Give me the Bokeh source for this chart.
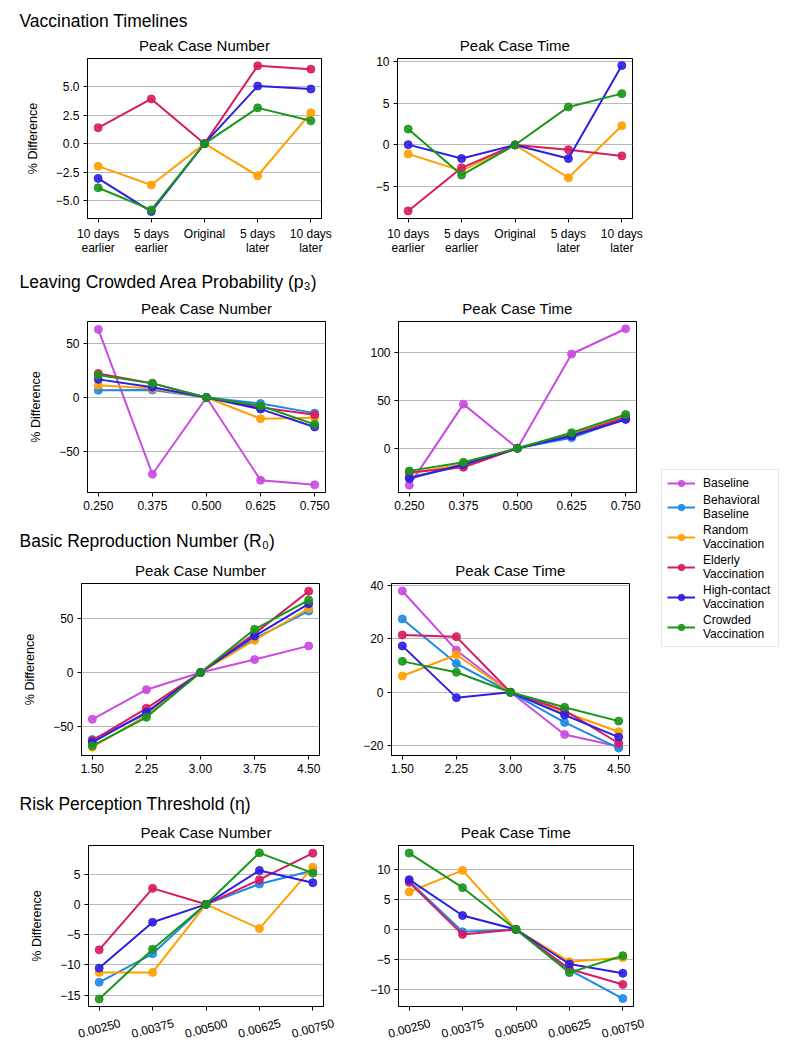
from bokeh.plotting import figure
from bokeh.layouts import row, column
from bokeh.models import (Range1d, FixedTicker, CustomJSTickFormatter, Legend,
                          LegendItem, ColumnDataSource)
from bokeh.embed import file_html
from bokeh.resources import INLINE
from bokeh.core.properties import value
import math

FONT = "Liberation Sans"

# ---------------- series / legend ----------------
SERIES = ["Baseline", "Behavioral Baseline", "Random Vaccination",
          "Elderly Vaccination", "High-contact Vaccination", "Crowded Vaccination"]
LEGEND_LABELS = ["Baseline", "Behavioral\nBaseline", "Random\nVaccination",
                 "Elderly\nVaccination", "High-contact\nVaccination", "Crowded\nVaccination"]
COLORS = ["#C94BE0", "#1E88E5", "#FFA000", "#D81B60", "#2D1FE0", "#1A961A"]

# ---------------- Vaccination timelines ----------------
vt_x = [0, 1, 2, 3, 4]
vt_labels = ["10 days\nearlier", "5 days\nearlier", "Original", "5 days\nlater", "10 days\nlater"]
vt_num = {
    "Random Vaccination":       [-1.97, -3.62, 0.0, -2.81, 2.70],
    "Elderly Vaccination":      [1.39, 3.91, 0.0, 6.81, 6.52],
    "High-contact Vaccination": [-3.04, -5.94, 0.0, 5.04, 4.78],
    "Crowded Vaccination":      [-3.86, -5.80, 0.0, 3.13, 2.00],
}
vt_time = {
    "Random Vaccination":       [-1.07, -3.10, 0.0, -3.93, 2.30],
    "Elderly Vaccination":      [-7.90, -2.74, 0.0, -0.56, -1.31],
    "High-contact Vaccination": [0.04, -1.63, 0.0, -1.63, 9.52],
    "Crowded Vaccination":      [1.90, -3.61, 0.0, 4.56, 6.15],
}

# ---------------- Leaving crowded area probability p3 ----------------
p3_x = [0.250, 0.375, 0.500, 0.625, 0.750]
p3_num = {
    "Baseline":                 [63.0, -70.9, 0.0, -76.5, -80.7],
    "Behavioral Baseline":      [6.7, 7.0, 0.0, -5.5, -14.4],
    "Random Vaccination":       [11.3, 8.3, 0.0, -19.6, -18.7],
    "Elderly Vaccination":      [22.3, 13.1, 0.0, -9.2, -15.9],
    "High-contact Vaccination": [16.8, 9.5, 0.0, -10.7, -27.2],
    "Crowded Vaccination":      [20.8, 13.1, 0.0, -7.6, -24.8],
}
p3_time = {
    "Baseline":                 [-38.5, 46.2, 0.0, 98.6, 125.0],
    "Behavioral Baseline":      [-30.2, -18.4, 0.0, 11.1, 30.9],
    "Random Vaccination":       [-26.4, -16.7, 0.0, 14.6, 33.7],
    "Elderly Vaccination":      [-25.3, -19.8, 0.0, 13.5, 32.6],
    "High-contact Vaccination": [-31.6, -17.0, 0.0, 12.8, 30.2],
    "Crowded Vaccination":      [-23.6, -14.6, 0.0, 16.3, 35.4],
}

# ---------------- Basic reproduction number R0 ----------------
r0_x = [1.50, 2.25, 3.00, 3.75, 4.50]
r0_num = {
    "Baseline":                 [-43.1, -15.9, 0.0, 11.9, 24.5],
    "Behavioral Baseline":      [-61.8, -38.2, 0.0, 31.2, 56.6],
    "Random Vaccination":       [-68.8, -39.8, 0.0, 29.7, 59.0],
    "Elderly Vaccination":      [-62.7, -33.0, 0.0, 35.8, 74.9],
    "High-contact Vaccination": [-64.5, -36.7, 0.0, 33.6, 63.3],
    "Crowded Vaccination":      [-67.6, -41.3, 0.0, 39.8, 66.7],
}
r0_time = {
    "Baseline":                 [38.0, 15.8, 0.0, -15.8, -20.3],
    "Behavioral Baseline":      [27.5, 10.8, 0.0, -11.3, -20.9],
    "Random Vaccination":       [6.1, 14.1, 0.0, -7.5, -14.8],
    "Elderly Vaccination":      [21.5, 20.8, 0.0, -6.8, -19.1],
    "High-contact Vaccination": [17.4, -2.0, 0.0, -8.5, -16.8],
    "Crowded Vaccination":      [11.6, 7.5, 0.0, -5.6, -10.8],
}

# ---------------- Risk perception threshold eta ----------------
eta_x = [0.00250, 0.00375, 0.00500, 0.00625, 0.00750]
eta_labels = ["0.00250", "0.00375", "0.00500", "0.00625", "0.00750"]
eta_num = {
    "Behavioral Baseline":      [-12.9, -8.19, 0.0, 3.35, 5.6],
    "Random Vaccination":       [-11.26, -11.26, 0.0, -4.01, 6.15],
    "Elderly Vaccination":      [-7.53, 2.64, 0.0, 4.07, 8.46],
    "High-contact Vaccination": [-10.55, -2.97, 0.0, 5.60, 3.57],
    "Crowded Vaccination":      [-15.66, -7.42, 0.0, 8.52, 5.16],
}
eta_time = {
    "Behavioral Baseline":      [8.0, -0.38, 0.0, -6.7, -11.43],
    "Random Vaccination":       [6.21, 9.78, 0.0, -5.33, -4.67],
    "Elderly Vaccination":      [7.80, -0.82, 0.0, -6.54, -9.12],
    "High-contact Vaccination": [8.24, 2.31, 0.0, -5.71, -7.25],
    "Crowded Vaccination":      [12.64, 6.92, 0.0, -7.14, -4.34],
}

SECTION_TITLES = ["Vaccination Timelines",
                  "Leaving Crowded Area Probability (p\u2083)",
                  "Basic Reproduction Number (R\u2080)",
                  "Risk Perception Threshold (\u03b7)"]
LEFT_TITLE = "Peak Case Number"
RIGHT_TITLE = "Peak Case Time"
Y_LABEL = "% Difference"


def fmt(dec):
    return CustomJSTickFormatter(
        code="return tick.toFixed(%d).replace('-', '\u2212');" % dec)


def blank_fig(width, height, xr, yr):
    f = figure(width=width, height=height, x_range=xr, y_range=yr, min_border=0,
               x_axis_location=None, y_axis_location=None,
               toolbar_location=None, output_backend="svg")
    f.grid.visible = False
    f.outline_line_color = None
    return f


def header(text, height, yc, width=650):
    h = blank_fig(width, height, Range1d(0, width), Range1d(height, 0))
    h.text(x=[19], y=[yc], text=[text], text_font=value(FONT),
           text_font_size="17.5px", text_baseline="middle", text_align="left",
           text_color="black")
    return h


def style_axis(ax):
    ax.major_tick_out = 4
    ax.major_tick_in = 0
    ax.minor_tick_line_color = None
    ax.axis_line_color = "black"
    ax.major_tick_line_color = "black"
    ax.major_label_text_font = FONT
    ax.major_label_text_font_size = "12px"
    ax.major_label_text_color = "black"
    ax.major_label_text_line_height = 1.05
    ax.major_label_standoff = 4


def panel(title, xs, data, xr, yr, xticks, xfmt, yticks, ydec, geom,
          ylabel=None, overrides=None):
    ml, fw, mr, mt, fh, mb = geom
    p = figure(width=ml + fw + mr, height=mt + fh + mb, min_border_left=ml,
               min_border_right=mr, min_border_top=mt, min_border_bottom=mb,
               x_range=Range1d(*xr), y_range=Range1d(*yr), title=title,
               toolbar_location=None, output_backend="svg")
    p.title.align = "center"
    p.title.text_font = FONT
    p.title.text_font_size = "15px"
    p.title.text_font_style = "normal"
    p.title.text_color = "black"
    p.title.standoff = 10
    p.outline_line_color = "black"
    p.outline_line_width = 1
    p.xgrid.visible = False
    p.ygrid.grid_line_color = "#b8b8b8"
    p.ygrid.grid_line_width = 1.2
    style_axis(p.xaxis[0])
    style_axis(p.yaxis[0])
    p.xaxis.ticker = FixedTicker(ticks=xticks)
    if overrides is not None:
        p.xaxis.major_label_overrides = overrides
    else:
        p.xaxis.formatter = xfmt
    p.yaxis.ticker = FixedTicker(ticks=yticks)
    p.yaxis.formatter = fmt(ydec)
    if ylabel:
        p.yaxis.axis_label = ylabel
        p.yaxis.axis_label_text_font = FONT
        p.yaxis.axis_label_text_font_size = "12.5px"
        p.yaxis.axis_label_text_font_style = "normal"
        p.yaxis.axis_label_text_color = "black"
        p.yaxis.axis_label_standoff = 13
    for name, color in zip(SERIES, COLORS):
        if name not in data:
            continue
        src = ColumnDataSource(data=dict(x=xs, y=data[name]))
        p.line("x", "y", source=src, line_color=color, line_width=2)
        p.scatter("x", "y", source=src, size=8, fill_color=color,
                  line_color=color, fill_alpha=0.9, line_alpha=0.9)
    return p


def rotated_labels(p, geom, xs, labels, height, yc):
    """Full-width strip under a panel holding its x tick labels, rotated by
    15 degrees and centred on the ticks (same data scale as the panel)."""
    ml, fw, mr = geom[0], geom[1], geom[2]
    k = (p.x_range.end - p.x_range.start) / fw
    xr = Range1d(p.x_range.start - ml * k, p.x_range.end + mr * k)
    s = blank_fig(ml + fw + mr, height, xr, Range1d(height, 0))
    s.text(x=xs, y=[yc] * len(xs), text=labels, angle=math.radians(15),
           text_font=value(FONT), text_font_size="12px", text_align="center",
           text_baseline="middle", text_color="black")
    return s


# geometry: (min_border_left, frame_width, min_border_right, min_border_top, frame_height, min_border_bottom)
G1L = (87, 234, 19, 28, 161, 46)
G1R = (57, 235, 18, 28, 161, 46)
G2L = (87, 238, 15, 28, 172, 28)
G2R = (58, 238, 14, 28, 172, 28)
G3L = (81, 238, 21, 28, 173, 25)
G3R = (51, 238, 21, 28, 173, 25)
G4L = (88, 235, 17, 28, 162, 8)
G4R = (58, 235, 17, 28, 162, 8)
STRIP_H = 37

vt_over = {k: v for k, v in zip(vt_x, vt_labels)}

a1 = panel(LEFT_TITLE, vt_x, vt_num, (-0.2, 4.2), (-6.55, 7.45), vt_x, None,
           [-5.0, -2.5, 0.0, 2.5, 5.0], 1, G1L, ylabel=Y_LABEL, overrides=vt_over)
b1 = panel(RIGHT_TITLE, vt_x, vt_time, (-0.2, 4.2), (-8.81, 10.36), vt_x, None,
           [-5, 0, 5, 10], 0, G1R, overrides=vt_over)

a2 = panel(LEFT_TITLE, p3_x, p3_num, (0.225, 0.775), (-87.8, 70.3), p3_x, fmt(3),
           [-50, 0, 50], 0, G2L, ylabel=Y_LABEL)
b2 = panel(RIGHT_TITLE, p3_x, p3_time, (0.225, 0.775), (-46.2, 132.6), p3_x, fmt(3),
           [0, 50, 100], 0, G2R)

a3 = panel(LEFT_TITLE, r0_x, r0_num, (1.35, 4.65), (-76.5, 82.0), r0_x, fmt(2),
           [-50, 0, 50], 0, G3L, ylabel=Y_LABEL)
b3 = panel(RIGHT_TITLE, r0_x, r0_time, (1.35, 4.65), (-23.7, 40.8), r0_x, fmt(2),
           [-20, 0, 20, 40], 0, G3R)

blank = CustomJSTickFormatter(code="return '';")
a4 = panel(LEFT_TITLE, eta_x, eta_num, (0.00225, 0.00775), (-16.9, 9.73), eta_x, blank,
           [-15, -10, -5, 0, 5], 0, G4L, ylabel=Y_LABEL)
b4 = panel(RIGHT_TITLE, eta_x, eta_time, (0.00225, 0.00775), (-12.75, 13.9), eta_x, blank,
           [-10, -5, 0, 5, 10], 0, G4R)
s4a = rotated_labels(a4, G4L, eta_x, eta_labels, STRIP_H, 13.5)
s4b = rotated_labels(b4, G4R, eta_x, eta_labels, STRIP_H, 13.5)

h1 = header(SECTION_TITLES[0], 29, 20)
h2 = header(SECTION_TITLES[1], 28, 17)
h3 = header(SECTION_TITLES[2], 34, 20)
h4 = header(SECTION_TITLES[3], 36, 23)

TOTAL_H = 29 + 235 + 28 + 228 + 34 + 226 + 36 + 198 + STRIP_H
lg = blank_fig(150, TOTAL_H, Range1d(100, 101), Range1d(100, 101))
items = []
for name, lab, color in zip(SERIES, LEGEND_LABELS, COLORS):
    # the legend figure shows no data (its range lies outside), only legend glyphs
    src = ColumnDataSource(data=dict(x=r0_x, y=r0_num[name]))
    r1 = lg.line("x", "y", source=src, line_color=color, line_width=2)
    r2 = lg.scatter("x", "y", source=src, size=8, fill_color=color,
                    line_color=color, fill_alpha=0.9, line_alpha=0.9)
    items.append(LegendItem(label=lab, renderers=[r1, r2]))
legend = Legend(items=items, location=(11, TOTAL_H - 647), glyph_width=28, glyph_height=16,
                label_height=16, label_width=70, label_standoff=8, padding=5,
                spacing=2, margin=0,
                label_text_font=FONT, label_text_font_size="12px",
                label_text_color="black", border_line_color="#cccccc",
                border_line_width=1, background_fill_color="white")
lg.add_layout(legend)

left_col = column(h1, row(a1, b1), h2, row(a2, b2), h3, row(a3, b3), h4,
                  row(a4, b4), row(s4a, s4b))
page = row(left_col, lg)

open("out.html", "w").write(file_html(page, INLINE))
